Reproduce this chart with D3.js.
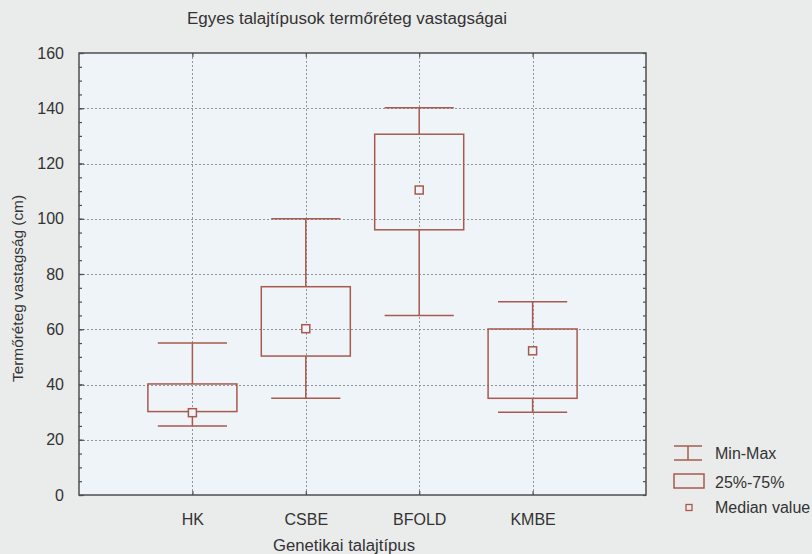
<!DOCTYPE html>
<html>
<head>
<meta charset="utf-8">
<script src="https://cdn.jsdelivr.net/npm/d3@7"></script>
<style>
  html, body { margin: 0; padding: 0; background: #eaebeb; }
  svg { display: block; }
  text { font-family: "Liberation Sans", Arial, sans-serif; fill: #333; }
</style>
</head>
<body>
<svg id="chart" width="812" height="554"></svg>
<script>
const categories = ["HK", "CSBE", "BFOLD", "KMBE"];
const minVals    = [25, 35, 65, 30];
const q1Vals     = [30.2, 50.3, 96, 35];
const medianVals = [29.8, 60.2, 110.4, 52.2];
const q3Vals     = [40.2, 75.4, 130.6, 60.1];
const maxVals    = [55, 100, 140.2, 70];
const yTicks     = [0, 20, 40, 60, 80, 100, 120, 140, 160];
const legendLabels = ["Min-Max", "25%-75%", "Median value"];

const title  = "Egyes talajtípusok termőréteg vastagságai";
const xTitle = "Genetikai talajtípus";
const yTitle = "Termőréteg vastagság (cm)";

const W = 812, H = 554;
const plot = { left: 79, right: 646, top: 53, bottom: 495 };
const boxColor = "#a85a4e";
const frameColor = "#4f4f4f";

const svg = d3.select("#chart");

svg.append("rect").attr("x", 0).attr("y", 0).attr("width", W).attr("height", H).attr("fill", "#eaebeb");
svg.append("rect")
  .attr("x", plot.left).attr("y", plot.top)
  .attr("width", plot.right - plot.left).attr("height", plot.bottom - plot.top)
  .attr("fill", "#eff4f8");

const x = d3.scalePoint().domain(categories).range([plot.left, plot.right]).padding(1);
const y = d3.scaleLinear().domain([0, 160]).range([plot.bottom, plot.top]);
const step = x.step();
const boxW = step * 0.785;
const capW = step * 0.61;
const crisp = v => Math.round(v) + 0.5;

// gridlines
const grid = svg.append("g");
grid.selectAll("line.h").data(yTicks.filter(d => d > 0 && d < 160)).join("line")
  .attr("class", "h")
  .attr("x1", plot.left).attr("x2", plot.right)
  .attr("y1", d => crisp(y(d))).attr("y2", d => crisp(y(d)));
grid.selectAll("line.v").data(categories).join("line")
  .attr("class", "v")
  .attr("y1", plot.top).attr("y2", plot.bottom)
  .attr("x1", d => crisp(x(d))).attr("x2", d => crisp(x(d)));
grid.selectAll("line")
  .attr("stroke", "#8f959b").attr("stroke-width", 1).attr("stroke-dasharray", "2,2")
  .attr("shape-rendering", "crispEdges");

// axes
const minorTicks = d3.range(0, 161, 5);
function styleAxis(g) {
  g.select(".domain").remove();
  g.selectAll(".tick line").attr("stroke", frameColor).attr("stroke-width", 1.2);
  g.selectAll(".tick text").attr("fill", "#333").style("font-size", "16px")
   .style("font-family", '"Liberation Sans", Arial, sans-serif');
}
svg.append("g").attr("transform", `translate(${plot.left},0)`)
  .call(d3.axisLeft(y).tickValues(yTicks).tickSize(-5).tickPadding(15).tickFormat(d3.format("d")))
  .call(styleAxis);
svg.append("g").attr("transform", `translate(${plot.left},0)`)
  .call(d3.axisLeft(y).tickValues(minorTicks).tickSize(-3).tickFormat(""))
  .call(styleAxis);
svg.append("g").attr("transform", `translate(${plot.right},0)`)
  .call(d3.axisRight(y).tickValues(minorTicks).tickSize(-3).tickFormat(""))
  .call(styleAxis);
svg.append("g").attr("transform", `translate(0,${plot.bottom})`)
  .call(d3.axisBottom(x).tickSize(-4).tickPadding(19))
  .call(styleAxis);
svg.append("g").attr("transform", `translate(0,${plot.top})`)
  .call(d3.axisTop(x).tickSize(-4).tickFormat(""))
  .call(styleAxis);

// frame
svg.append("rect")
  .attr("x", plot.left).attr("y", plot.top)
  .attr("width", plot.right - plot.left).attr("height", plot.bottom - plot.top)
  .attr("fill", "none").attr("stroke", frameColor).attr("stroke-width", 1.5);

// boxes
const data = categories.map((c, i) => ({
  c, min: minVals[i], q1: q1Vals[i], med: medianVals[i], q3: q3Vals[i], max: maxVals[i]
}));
const gb = svg.append("g").attr("stroke", boxColor).attr("stroke-width", 1.5).attr("fill", "none");
const bx = gb.selectAll("g").data(data).join("g");
bx.append("line").attr("x1", d => x(d.c)).attr("x2", d => x(d.c))
  .attr("y1", d => y(d.max)).attr("y2", d => y(d.q3));
bx.append("line").attr("x1", d => x(d.c)).attr("x2", d => x(d.c))
  .attr("y1", d => y(d.q1)).attr("y2", d => y(d.min));
bx.append("line").attr("x1", d => x(d.c) - capW / 2).attr("x2", d => x(d.c) + capW / 2)
  .attr("y1", d => y(d.max)).attr("y2", d => y(d.max));
bx.append("line").attr("x1", d => x(d.c) - capW / 2).attr("x2", d => x(d.c) + capW / 2)
  .attr("y1", d => y(d.min)).attr("y2", d => y(d.min));
bx.append("rect").attr("x", d => x(d.c) - boxW / 2).attr("width", boxW)
  .attr("y", d => y(d.q3)).attr("height", d => y(d.q1) - y(d.q3));
bx.append("rect").attr("x", d => x(d.c) - 4).attr("width", 8)
  .attr("y", d => y(d.med) - 4).attr("height", 8).attr("fill", "#eff4f8");

// legend
const lg = svg.append("g");
const lgX = 674;
lg.append("line").attr("x1", lgX).attr("x2", lgX + 28).attr("y1", 446).attr("y2", 446).attr("stroke", boxColor).attr("stroke-width", 1.5);
lg.append("line").attr("x1", lgX).attr("x2", lgX + 28).attr("y1", 460).attr("y2", 460).attr("stroke", boxColor).attr("stroke-width", 1.5);
lg.append("line").attr("x1", lgX + 14).attr("x2", lgX + 14).attr("y1", 446).attr("y2", 460).attr("stroke", boxColor).attr("stroke-width", 1.5);
lg.append("rect").attr("x", lgX).attr("y", 474).attr("width", 30).attr("height", 14).attr("fill", "none").attr("stroke", boxColor).attr("stroke-width", 1.5);
lg.append("rect").attr("x", lgX + 12).attr("y", 504.5).attr("width", 6).attr("height", 6).attr("fill", "none").attr("stroke", boxColor).attr("stroke-width", 1.3);
const lgY = [453, 482, 507.5];
lg.selectAll("text").data(legendLabels).join("text")
  .attr("x", 715).attr("y", (d, i) => lgY[i]).attr("dy", "0.36em")
  .style("font-size", "16px").text(d => d);

// titles
svg.append("text").attr("x", 347).attr("y", 24).attr("text-anchor", "middle")
  .style("font-size", "16px").attr("textLength", 320).attr("lengthAdjust", "spacingAndGlyphs").text(title);
svg.append("text").attr("x", 344).attr("y", 551).attr("text-anchor", "middle")
  .style("font-size", "16px").attr("textLength", 142).attr("lengthAdjust", "spacingAndGlyphs").text(xTitle);
svg.append("text").attr("transform", "translate(23,288.5) rotate(-90)").attr("text-anchor", "middle")
  .style("font-size", "15px").attr("textLength", 187).attr("lengthAdjust", "spacingAndGlyphs").text(yTitle);
</script>
</body>
</html>
